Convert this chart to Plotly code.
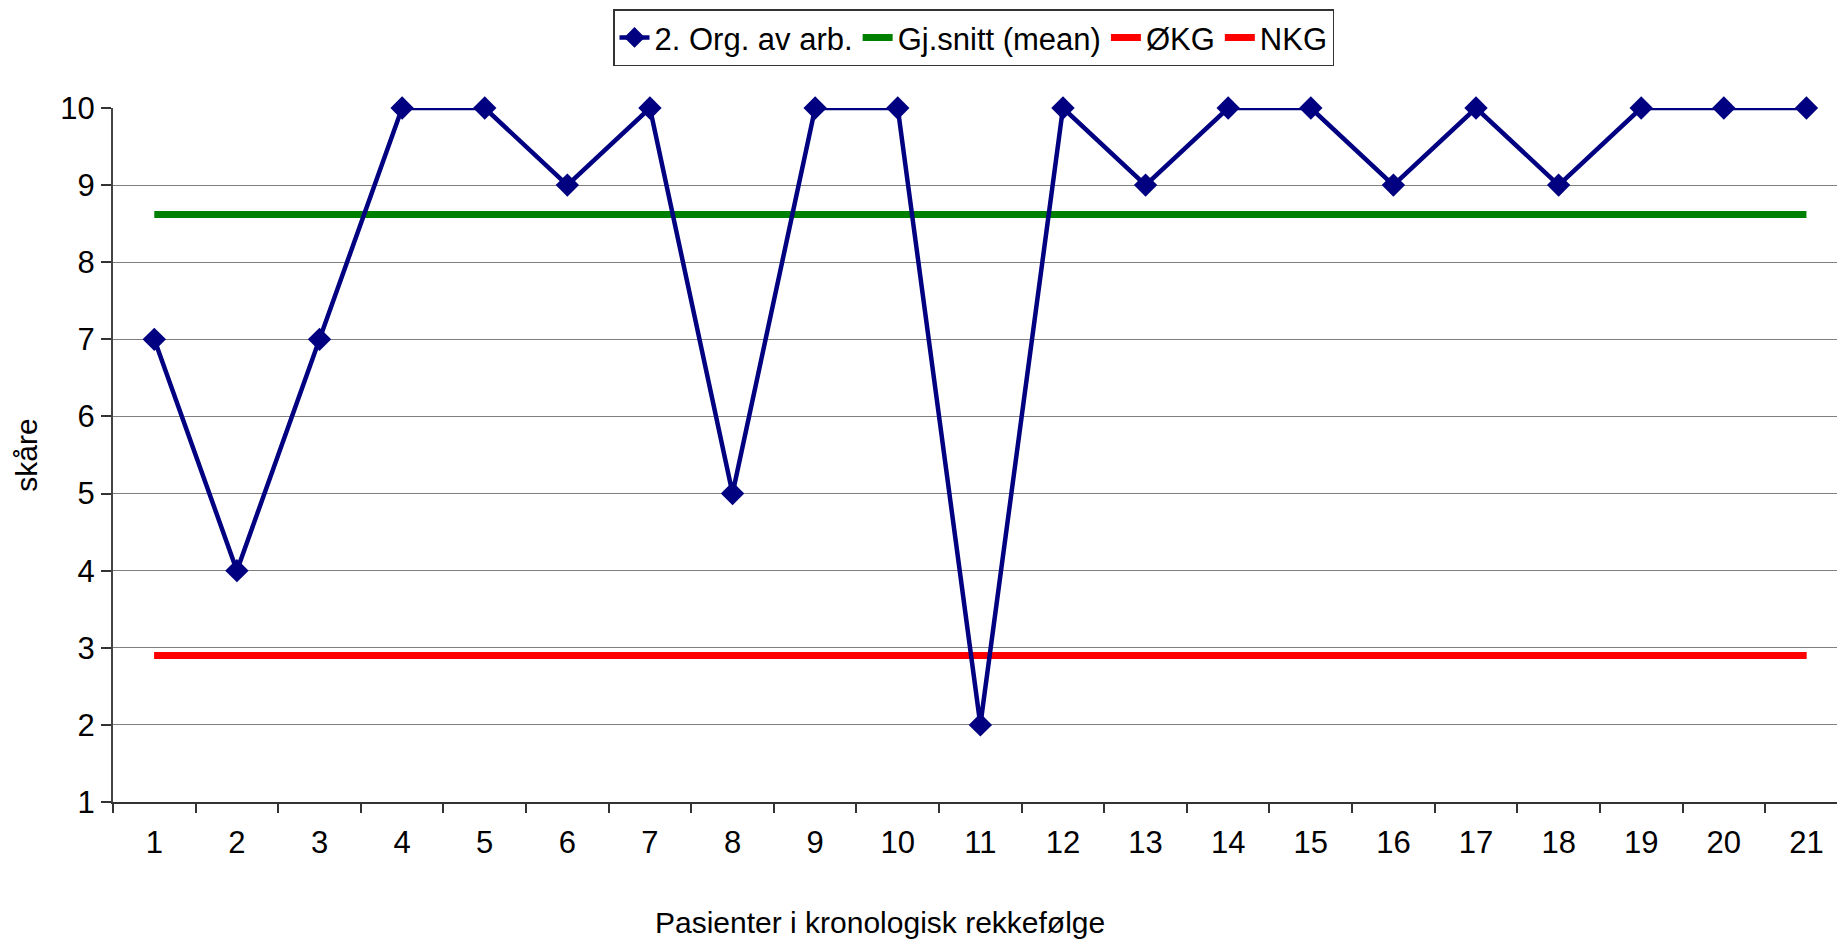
import plotly.graph_objects as go

categories = [str(i) for i in range(1, 22)]
org_av_arb = [7, 4, 7, 10, 10, 9, 10, 5, 10, 10, 2, 10, 9, 10, 10, 9, 10, 9, 10, 10, 10]
mean_vals = [8.62] * 21
okg_vals = [2.9] * 21
nkg_vals = [2.9] * 21
y_ticks = [1, 2, 3, 4, 5, 6, 7, 8, 9, 10]

FONT = "Liberation Sans, Arial, sans-serif"

fig = go.Figure()
fig.add_trace(go.Scatter(
    x=categories, y=mean_vals, name="Gj.snitt (mean)", mode="lines",
    line=dict(color="#008000", width=7), legendrank=2,
))
fig.add_trace(go.Scatter(
    x=categories, y=okg_vals, name="ØKG", mode="lines",
    line=dict(color="#FF0000", width=7), legendrank=3,
))
fig.add_trace(go.Scatter(
    x=categories, y=nkg_vals, name="NKG", mode="lines",
    line=dict(color="#FF0000", width=7), legendrank=4,
))
fig.add_trace(go.Scatter(
    x=categories, y=org_av_arb, name="2. Org. av arb.", mode="lines+markers",
    line=dict(color="#000080", width=4.5),
    marker=dict(symbol="diamond", size=18, color="#000080"),
    cliponaxis=False, legendrank=1,
))

fig.update_layout(
    width=1837, height=939,
    margin=dict(l=113, r=0, t=108, b=137),
    paper_bgcolor="white", plot_bgcolor="white",
    font=dict(family=FONT, size=30, color="black"),
    showlegend=True,
    legend=dict(
        orientation="h", x=(973.5 - 113) / 1724, xanchor="center",
        y=(801.7 - 9) / 694, yanchor="top",
        bordercolor="#333333", borderwidth=1.5, bgcolor="white",
        font=dict(family=FONT, size=31, color="black"),
        itemwidth=30, tracegroupgap=0,
    ),
    xaxis=dict(
        type="category", range=[-0.5, 20.37],
        tickson="boundaries", ticks="outside", ticklen=9, tickwidth=1.5,
        tickcolor="#333333",
        showline=True, linecolor="#333333", linewidth=2,
        showgrid=False, zeroline=False,
        tickfont=dict(family=FONT, size=31, color="black"),
        ticklabelstandoff=12,
    ),
    yaxis=dict(
        range=[1, 10], tickvals=y_ticks,
        ticks="outside", ticklen=10, tickwidth=1.5, tickcolor="#333333",
        showline=True, linecolor="#444444", linewidth=2,
        showgrid=True, gridcolor="#7f7f7f", gridwidth=1,
        zeroline=False,
        tickfont=dict(family=FONT, size=31, color="black"),
        title=dict(text="skåre", font=dict(family=FONT, size=30, color="black"), standoff=14),
    ),
    annotations=[dict(
        text="Pasienter i kronologisk rekkefølge",
        xref="paper", yref="paper", x=(880 - 113) / 1724, y=(801.7 - 922) / 694,
        xanchor="center", yanchor="middle", showarrow=False,
        font=dict(family=FONT, size=30, color="black"),
    )],
)

fig.write_html("out.html")
